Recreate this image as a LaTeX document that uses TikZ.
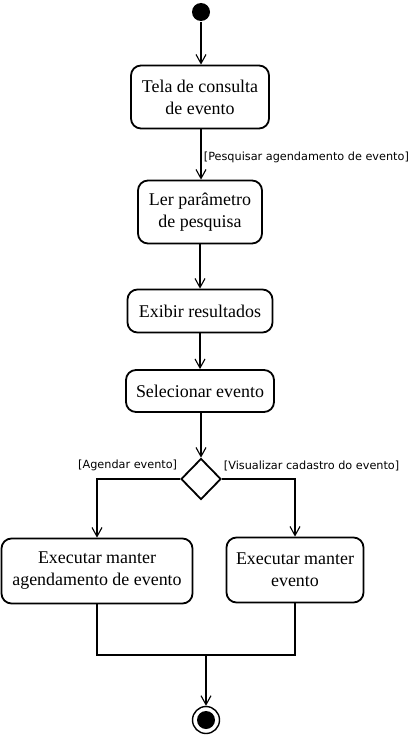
\documentclass[tikz,border=0pt]{standalone}
\usepackage{fontspec}
\setmainfont{Liberation Serif}
\newfontfamily\guardfont{DejaVu Sans}
\usetikzlibrary{arrows.meta, positioning, shapes.geometric}

\begin{document}
\begin{tikzpicture}[x=1bp, y=-1bp,
    line width=1.8bp,
    atividade/.style={draw, rounded corners=10bp, align=center,
      font=\fontsize{18}{22}\selectfont, inner sep=2bp},
    fluxo/.style={-{Straight Barb[length=9bp, width=10bp, line width=1.1bp]}},
    guarda/.style={font=\guardfont\fontsize{11.3}{13}\selectfont, inner sep=0pt}]
  \useasboundingbox (0,0) rectangle (411,739);

  % estados inicial e final
  \node[circle, fill=black, minimum size=18bp, inner sep=0pt] (inicio) at (201,12) {};
  \node[circle, draw, line width=1.4bp, minimum size=27bp, inner sep=0pt] (fim) at (206,720) {};
  \fill (fim.center) circle (9bp);

  % atividades
  \node[atividade, minimum width=138bp, minimum height=63bp] (tela) at (200,97)
    {Tela de consulta\\de evento};
  \node[atividade, minimum width=124bp, minimum height=63bp] (ler) at (200,212)
    {Ler parâmetro\\de pesquisa};
  \node[atividade, minimum width=145bp, minimum height=43bp] (exibir) at (200,311)
    {Exibir resultados};
  \node[atividade, minimum width=148bp, minimum height=42bp] (selec) at (200,391)
    {Selecionar evento};
  \node[diamond, draw, minimum width=40bp, minimum height=41bp, inner sep=0pt] (decisao) at (201,479) {};
  \node[atividade, minimum width=191bp, minimum height=65bp] (agenda) at (97,571)
    {Executar manter\\agendamento de evento};
  \node[atividade, minimum width=137bp, minimum height=65bp] (manter) at (295,570)
    {Executar manter\\evento};
  \coordinate (juncao) at (206,655);

  % fluxos
  \draw[fluxo] (inicio) -- (inicio |- tela.north);
  \draw[fluxo] (tela.south -| inicio) -- (inicio |- ler.north);
  \draw[fluxo] (ler) -- (exibir);
  \draw[fluxo] (exibir) -- (selec);
  \draw[fluxo] (selec.south -| decisao) -- (decisao.north);
  \draw[fluxo] (decisao.west) -| (agenda.north);
  \draw[fluxo] (decisao.east) -| (manter.north);
  \draw (agenda.south) -- (agenda.south |- juncao) -- (manter.south |- juncao) -- (manter.south);
  \draw[fluxo] (juncao) -- (fim);

  % guardas
  \node[guarda, anchor=west] (gpesq) at (203,157) {[Pesquisar agendamento de evento]};
  \node[guarda, anchor=east] (gagenda) at (178,465) {[Agendar evento]};
  \node[guarda, anchor=west] (gvisual) at (223,466) {[Visualizar cadastro do evento]};
\end{tikzpicture}
\end{document}
